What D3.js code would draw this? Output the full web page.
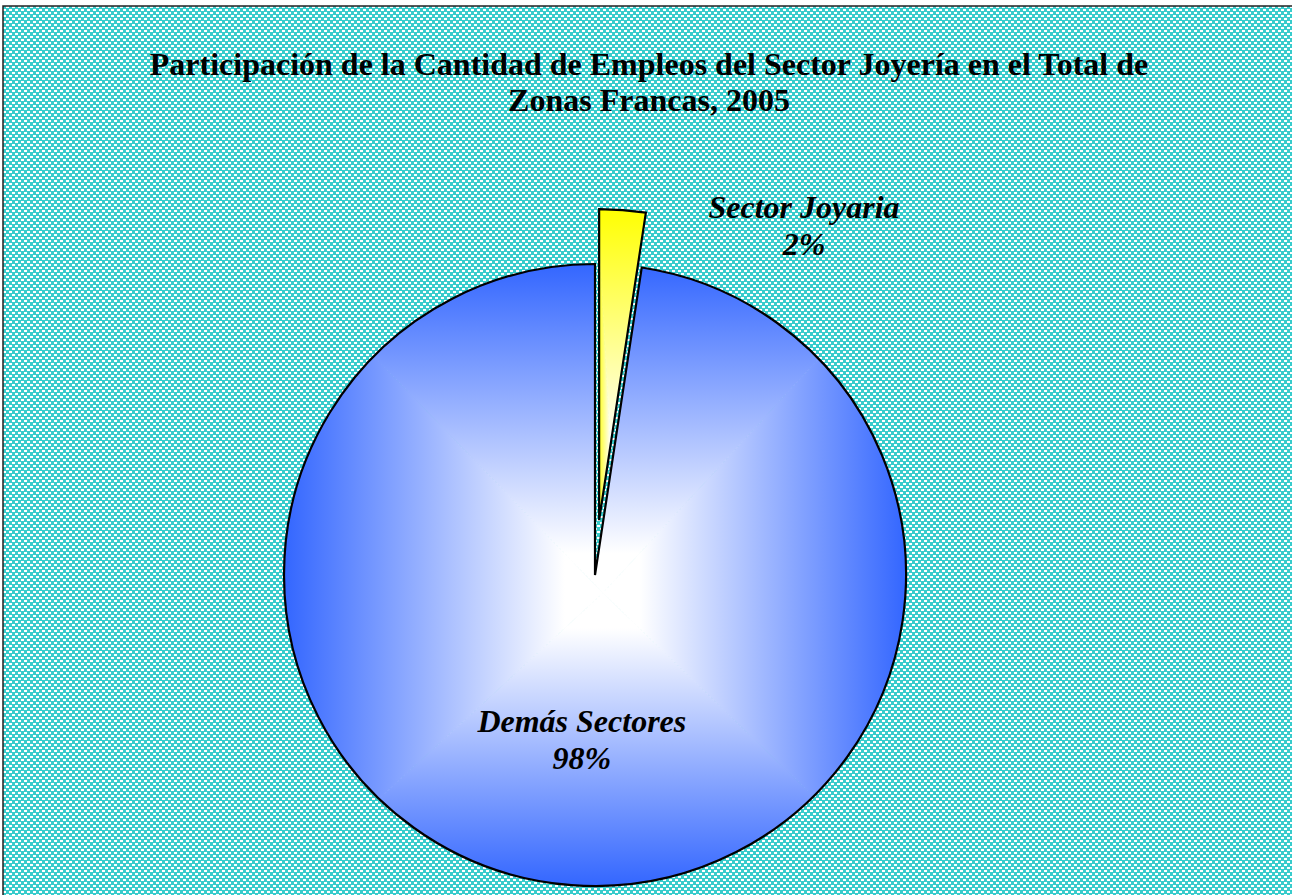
<!DOCTYPE html>
<html>
<head>
<meta charset="utf-8">
<script src="https://cdn.jsdelivr.net/npm/d3@7"></script>
<style>
  body { margin: 0; background: #fff; }
  svg { display: block; }
</style>
</head>
<body>
<svg id="chart"></svg>
<script>
var width = 1292,
    height = 895;

// data
var sectors = ["Sector Joyaria", "Demás Sectores"];
var shares = [2.4, 97.6];
var edgeColors = ["#FFFF00", "#3366FF"];
var titleLines = ["Participación de la Cantidad de Empleos del Sector Joyería en el Total de",
                  "Zonas Francas, 2005"];

var cx = 595, cy = 575, radius = 311, explode = 55;

var svg = d3.select("#chart").attr("width", width).attr("height", height);
var defs = svg.append("defs");

// checkered teal background
var pat = defs.append("pattern")
    .attr("id", "checks")
    .attr("patternUnits", "userSpaceOnUse")
    .attr("width", 6).attr("height", 6);
pat.append("rect").attr("width", 6).attr("height", 6).attr("fill", "#38CCCC");
pat.append("rect").attr("x", 0).attr("y", 0).attr("width", 3).attr("height", 2).attr("fill", "#ffffff");
pat.append("rect").attr("x", 3).attr("y", 3).attr("width", 3).attr("height", 2).attr("fill", "#ffffff");

svg.append("rect")
    .attr("x", 3).attr("y", 6)
    .attr("width", width + 10).attr("height", height + 10)
    .attr("fill", "url(#checks)")
    .attr("stroke", "#222").attr("stroke-width", 1.5);

// title
svg.append("g").selectAll("text")
    .data(titleLines)
    .enter()
    .append("text")
      .attr("x", 649)
      .attr("y", function(d, i) { return 75 + i * 36; })
      .attr("text-anchor", "middle")
      .style("font-family", "'Liberation Serif', 'Times New Roman', serif")
      .style("font-weight", "bold")
      .style("font-size", "32px")
      .text(function(d) { return d; });

var pie = d3.pie().sort(null).value(function(d) { return d; });
var arcs = pie(shares);
var arc = d3.arc().innerRadius(0).outerRadius(radius);

// rectangular "from centre" gradient: four triangles, each with its own linear gradient
function rectGradient(g, id, color, x0, y0, x1, y1, mx, my) {
  var sides = [
    { name: "t", pts: [[x0, y0], [x1, y0], [mx, my]], g: [mx, my, mx, y0] },
    { name: "r", pts: [[x1, y0], [x1, y1], [mx, my]], g: [mx, my, x1, my] },
    { name: "b", pts: [[x1, y1], [x0, y1], [mx, my]], g: [mx, my, mx, y1] },
    { name: "l", pts: [[x0, y1], [x0, y0], [mx, my]], g: [mx, my, x0, my] }
  ];
  sides.forEach(function(s) {
    var lg = defs.append("linearGradient")
        .attr("id", id + s.name)
        .attr("gradientUnits", "userSpaceOnUse")
        .attr("x1", s.g[0]).attr("y1", s.g[1])
        .attr("x2", s.g[2]).attr("y2", s.g[3]);
    lg.append("stop").attr("offset", "0%").attr("stop-color", "#ffffff");
    lg.append("stop").attr("offset", "12%").attr("stop-color", "#ffffff");
    lg.append("stop").attr("offset", "100%").attr("stop-color", color);
    g.append("path")
      .attr("d", d3.line()(s.pts) + "Z")
      .attr("fill", "url(#" + id + s.name + ")")
      .attr("stroke", "url(#" + id + s.name + ")")
      .attr("stroke-width", 0.8);
  });
}

var slices = svg.append("g");

arcs.forEach(function(a, i) {
  var mid = (a.startAngle + a.endAngle) / 2;
  var off = i === 0 ? explode : 0;
  var ox = cx + off * Math.sin(mid),
      oy = cy - off * Math.cos(mid);
  var g = slices.append("g").attr("transform", "translate(" + ox + "," + oy + ")");
  var d = arc(a);

  defs.append("clipPath").attr("id", "clip" + i)
    .append("path").attr("d", d);

  var fillG = g.append("g").attr("clip-path", "url(#clip" + i + ")");
  if (i === 0) {
    // small slice: bounding box of the wedge
    var ang = d3.range(a.startAngle, a.endAngle, 0.01).concat([a.endAngle]);
    var xs = [0], ys = [0];
    ang.forEach(function(t) { xs.push(radius * Math.sin(t)); ys.push(-radius * Math.cos(t)); });
    var x0 = d3.min(xs), x1 = d3.max(xs), y0 = d3.min(ys), y1 = d3.max(ys);
    rectGradient(fillG, "g" + i, edgeColors[i], x0 - 2, y0 - 2, x1 + 2, y1 + 2, (x0 + x1) / 2 - 10, y1 - 40);
  } else {
    rectGradient(fillG, "g" + i, edgeColors[i], -radius, -radius, radius, radius, 8, 18);
  }

  g.append("path")
    .attr("d", d)
    .attr("fill", "none")
    .attr("stroke", "#000")
    .attr("stroke-width", 2.2)
    .attr("stroke-linejoin", "miter");
});

// labels
var fmt = function(v) { return Math.round(v) + "%"; };
var labelArc = d3.arc().innerRadius(175).outerRadius(175);
var labelPos = [
  [804, 218],
  (function() { var c = labelArc.centroid(arcs[1]); return [cx + c[0], cy + c[1] - 18]; })()
];

var labels = svg.append("g")
    .style("font-family", "'Liberation Serif', 'Times New Roman', serif")
    .style("font-weight", "bold")
    .style("font-style", "italic")
    .style("font-size", "32px")
    .attr("text-anchor", "middle");

sectors.forEach(function(name, i) {
  var t = labels.append("text").attr("x", labelPos[i][0]).attr("y", labelPos[i][1]);
  t.append("tspan").attr("x", labelPos[i][0]).text(name);
  t.append("tspan").attr("x", labelPos[i][0]).attr("dy", 37).text(fmt(shares[i]));
});
</script>
</body>
</html>
